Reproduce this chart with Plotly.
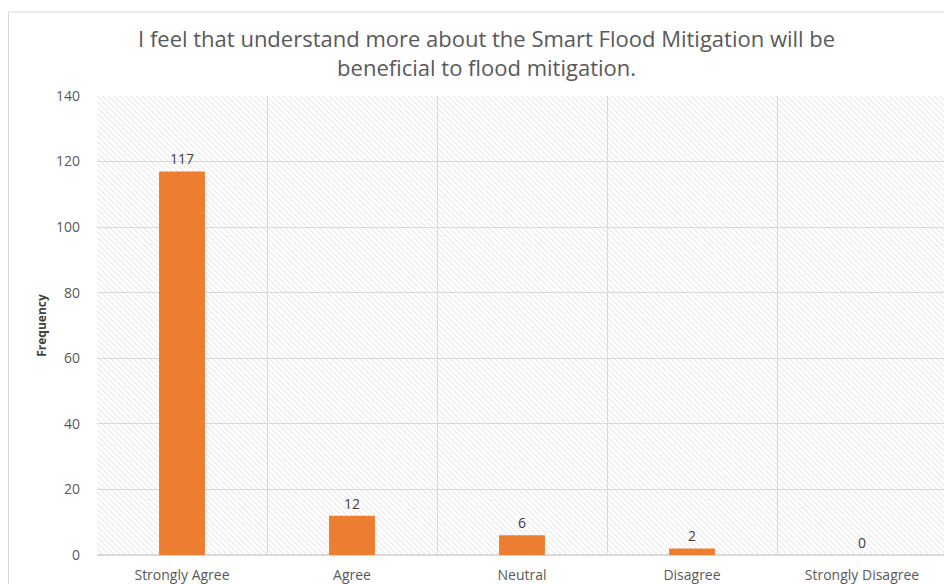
import plotly.graph_objects as go

categories = ["Strongly Agree", "Agree", "Neutral", "Disagree", "Strongly Disagree"]
frequency = [117, 12, 6, 2, 0]
y_ticks = [0, 20, 40, 60, 80, 100, 120, 140]
Y_MAX = 140

title_text = ("I feel that understand more about the Smart Flood Mitigation will be<br>"
              "beneficial to flood mitigation.")

fig = go.Figure()

# hatched plot-area background
fig.add_trace(go.Bar(
    x=categories, y=[Y_MAX] * len(categories), width=1,
    marker=dict(color="#d6d6d6", line=dict(width=0),
                pattern=dict(shape="\\", size=4, solidity=0.2, fillmode="replace")),
    hoverinfo="skip", showlegend=False,
))

fig.add_trace(go.Bar(
    x=categories, y=frequency, width=0.27,
    marker=dict(color="#ED7D31", line=dict(width=0)),
    text=[str(v) for v in frequency], textposition="outside",
    textfont=dict(size=14, color="#404040", family="Open Sans"),
    cliponaxis=False, showlegend=False,
))

W, H = 944, 576
L, T, R, B = 89, 88, 5, 29
pw, ph = W - L - R, H - T - B

fig.update_layout(
    barmode="overlay",
    width=W, height=H,
    margin=dict(l=L, r=R, t=T, b=B, autoexpand=False),
    paper_bgcolor="white", plot_bgcolor="white",
    font=dict(family="Open Sans", color="#595959"),
    title=dict(text=title_text, x=0.507, xanchor="center", y=1 - 39 / H, yanchor="middle",
               font=dict(size=22, color="#595959", family="Open Sans")),
    xaxis=dict(tickson="boundaries", showgrid=True, gridcolor="#d9d9d9", gridwidth=1,
               ticks="", showline=False, tickfont=dict(size=14, color="#595959"),
               range=[-0.5, 4.5], fixedrange=True, automargin=False,
               ticklabelstandoff=10),
    yaxis=dict(range=[0, Y_MAX], tickvals=y_ticks, showgrid=True, gridcolor="#d9d9d9",
               zeroline=True, zerolinecolor="#d9d9d9", showline=False, ticks="",
               ticklen=0, tickfont=dict(size=14, color="#595959"), automargin=False,
               ticklabelstandoff=16,
               title=dict(text="<b>Frequency</b>", font=dict(size=12, color="#404040"),
                          standoff=6)),
    shapes=[dict(type="rect", xref="paper", yref="paper",
                 x0=(0.5 - L) / pw, x1=1.2, y0=-0.2, y1=(H - B - 4) / ph,
                 line=dict(color="#d9d9d9", width=1), fillcolor="rgba(0,0,0,0)",
                 layer="below")],
)

fig.write_html("out.html")
